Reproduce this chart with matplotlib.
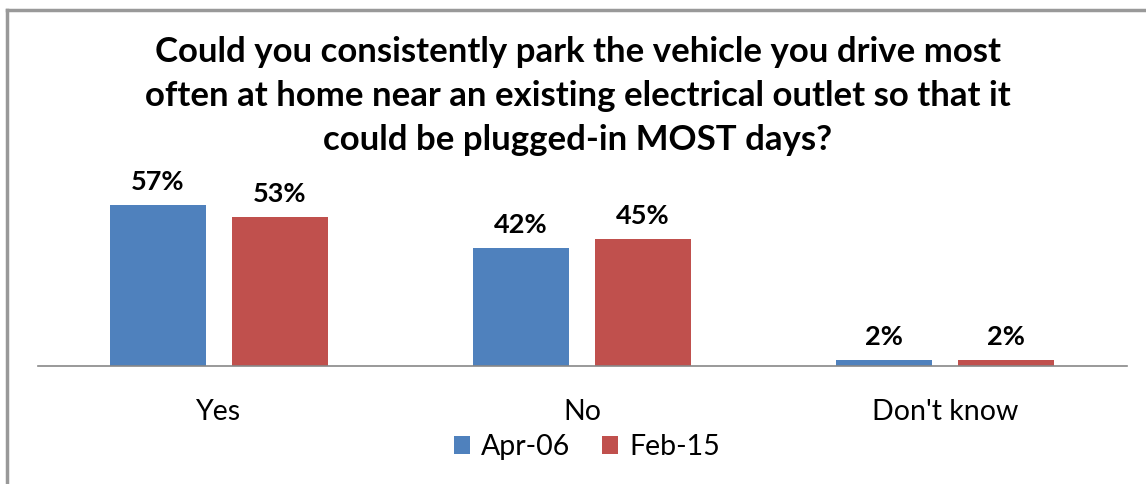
import matplotlib.pyplot as plt
import numpy as np
from matplotlib.lines import Line2D

# Данные
categories = ['Yes', 'No', "Don't know"]
series_names = ['Apr-06', 'Feb-15']
apr06 = [57, 42, 2]
feb15 = [53, 45, 2]
colors = ['#4F81BD', '#C0504D']

title = ('Could you consistently park the vehicle you drive most\n'
         'often at home near an existing electrical outlet so that it\n'
         'could be plugged-in MOST days?')

plt.rcParams['font.family'] = ['Lato', 'DejaVu Sans']

W, H = 1146, 484
fig = plt.figure(figsize=(W / 100, H / 100), dpi=100)

# Область графика в пикселях
left, right, top, bottom = 37.5, 1126.5, 197, 366
ax = fig.add_axes([left / W, 1 - bottom / H, (right - left) / W, (bottom - top) / H])

x = np.arange(len(categories))
width = 0.265
offset = 0.168
for vals, name, col, sign in zip([apr06, feb15], series_names, colors, [-1, 1]):
    bars = ax.bar(x + sign * offset, vals, width, color=col, label=name)
    for b, v in zip(bars, vals):
        ax.annotate(f'{v}%', (b.get_x() + b.get_width() / 2, v),
                    xytext=(0, 8), textcoords='offset points',
                    ha='center', va='bottom', fontsize=19.5, fontweight='bold')

ax.set_xlim(-0.5, 2.5)
ax.set_ylim(0, 60)
ax.set_yticks([])
ax.set_xticks(x)
ax.set_xticklabels(categories, fontsize=20.5)
ax.tick_params(axis='x', length=0, pad=24)
for s in ['top', 'right', 'left']:
    ax.spines[s].set_visible(False)
ax.spines['bottom'].set_color('#888888')
ax.spines['bottom'].set_linewidth(1.2)

fig.text(578 / W, 1 - 96 / H, title, ha='center', va='center',
         fontsize=25, fontweight='bold', linespacing=1.45)

fig.legend(loc='center', bbox_to_anchor=(587 / W, 1 - 447 / H), ncol=2,
           frameon=False, fontsize=20.5, handlelength=0.55, handleheight=0.55,
           handletextpad=0.4, columnspacing=1.1)

# Рамка слева и сверху
fig.add_artist(Line2D([7 / W, 7 / W], [0, 1 - 9.5 / H], color='#999999', lw=2.5))
fig.add_artist(Line2D([7 / W, 1], [1 - 9.5 / H, 1 - 9.5 / H], color='#999999', lw=2.5))

fig.savefig('out.png', dpi=100)
